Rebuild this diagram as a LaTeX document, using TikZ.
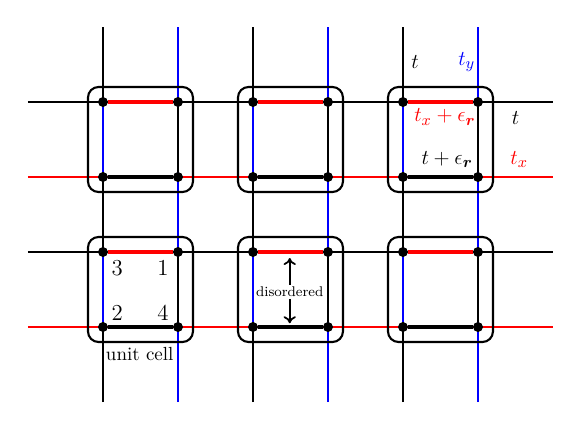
\documentclass[tikz,border=0pt]{standalone}
\usepackage{amsmath,amssymb,bm}
\usetikzlibrary{arrows.meta}

\begin{document}
\begin{tikzpicture}[x=1.5cm,y=1.5cm,>={To[length=4pt,width=7pt]},
            grid/.style={line width=0.9pt},
            bond/.style={line width=2.6pt},
            cellbox/.style={draw,line width=1.2pt,rounded corners=6pt},
            site/.style={circle,fill,inner sep=0pt,minimum size=5.5pt},
            lbl/.style={font=\fontsize{13}{15}\selectfont}]
            \useasboundingbox (-1.373,-1.387) rectangle (6.387,4.36);
            % lattice
            \foreach \c in {0,2,4} {
                \draw [grid] (\c,-1) -- (\c,4);
                \draw [grid,blue] (\c+1,-1) -- (\c+1,4);
            }
            \foreach \r in {0,2} {
                \draw [grid,red] (-1,\r) -- (6,\r);
                \draw [grid] (-1,\r+1) -- (6,\r+1);
            }
            % unit cells
            \foreach \c in {0,2,4} {
                \foreach \r in {0,2} {
                    \draw [cellbox] (\c-0.2,\r-0.2) rectangle (\c+1.2,\r+1.2);
                    \node [site] (s1-\c-\r) at (\c+1,\r+1) {};
                    \node [site] (s2-\c-\r) at (\c,\r) {};
                    \node [site] (s3-\c-\r) at (\c,\r+1) {};
                    \node [site] (s4-\c-\r) at (\c+1,\r) {};
                    \draw [grid,blue] (s3-\c-\r) -- (s2-\c-\r);
                    \draw [grid] (s1-\c-\r) -- (s4-\c-\r);
                    \draw [bond,red] (s3-\c-\r) -- (s1-\c-\r);
                    \draw [bond] (s2-\c-\r) -- (s4-\c-\r);
                    \node [site] at (s1-\c-\r) {};
                    \node [site] at (s2-\c-\r) {};
                    \node [site] at (s3-\c-\r) {};
                    \node [site] at (s4-\c-\r) {};
                }
            }
            % hoppings
            \node [lbl] (tv) at (4.16,3.53) {$t$};
            \node [lbl,blue] (ty) at (4.85,3.53) {$t_y$};
            \node [lbl,red] (txe) at (4.56,2.8) {$t_x+\epsilon_{\bm r}$};
            \node [lbl] (th) at (5.5,2.79) {$t$};
            \node [lbl] (te) at (4.59,2.23) {$t+\epsilon_{\bm r}$};
            \node [lbl,red] (tx) at (5.55,2.23) {$t_x$};
            % site labels
            \node [lbl] (n3) at (0.19,0.79) {3};
            \node [lbl] (n1) at (0.8,0.79) {1};
            \node [lbl] (n2) at (0.19,0.19) {2};
            \node [lbl] (n4) at (0.8,0.19) {4};
            \node [font=\fontsize{10.8}{13}\selectfont] (uc) at (0.49,-0.36) {unit cell};
            % disorder
            \node [font=\footnotesize,fill=white,inner sep=1pt] (dis) at (2.49,0.47) {disordered};
            \coordinate (dtop) at (2.49,0.92);
            \coordinate (dbot) at (2.49,0.05);
            \draw [->,line width=1pt] (dis) -- (dtop);
            \draw [->,line width=1pt] (dis) -- (dbot);
        \end{tikzpicture}
\end{document}
